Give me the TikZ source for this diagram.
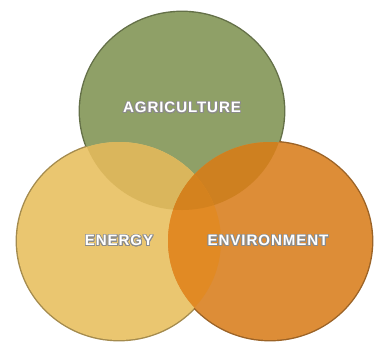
\documentclass[tikz,border=0pt]{standalone}
\usepackage{fontspec}
\usepackage{contour}
\newfontfamily\labelfont[LetterSpace=6]{Liberation Sans}
\contourlength{0.45pt}
\contournumber{24}

\definecolor{agrigreen}{RGB}{143,160,103}
\definecolor{energyyellow}{RGB}{234,198,112}
\definecolor{envorange}{RGB}{221,141,55}
\definecolor{agriener}{RGB}{218,182,92}
\definecolor{agrienv}{RGB}{206,128,32}
\definecolor{enerenv}{RGB}{225,138,36}
\definecolor{allthree}{RGB}{212,130,30}

\tikzset{
  rim/.style={draw=#1, line width=1.6pt},
  vennlabel/.style={text=white, font=\labelfont\bfseries\fontsize{8.6}{10}\selectfont}
}

\begin{document}
\begin{tikzpicture}[x=0.02cm, y=-0.02cm]
\useasboundingbox (0,0) rectangle (376,342);
\def\rx{102}
\def\ry{99}
\coordinate (agri) at (182,111);
\coordinate (ener) at (119,241);
\coordinate (envi) at (270,241);

% dark rims, mostly covered by the fills
\draw[rim=agrigreen!70!black] (agri) ellipse [x radius=\rx, y radius=\ry];
\draw[rim=energyyellow!70!black] (ener) ellipse [x radius=\rx, y radius=\ry];
\draw[rim=envorange!70!black] (envi) ellipse [x radius=\rx, y radius=\ry];

% fills
\fill[agrigreen] (agri) ellipse [x radius=\rx, y radius=\ry];
\fill[energyyellow] (ener) ellipse [x radius=\rx, y radius=\ry];
\fill[envorange] (envi) ellipse [x radius=\rx, y radius=\ry];

% overlaps
\begin{scope}
\clip (agri) ellipse [x radius=\rx, y radius=\ry];
\fill[agriener] (ener) ellipse [x radius=\rx, y radius=\ry];
\fill[agrienv] (envi) ellipse [x radius=\rx, y radius=\ry];
\end{scope}
\begin{scope}
\clip (ener) ellipse [x radius=\rx, y radius=\ry];
\fill[enerenv] (envi) ellipse [x radius=\rx, y radius=\ry];
\clip (envi) ellipse [x radius=\rx, y radius=\ry];
\fill[allthree] (agri) ellipse [x radius=\rx, y radius=\ry];
\end{scope}

% labels
\node[vennlabel] (agrilabel) at (182,108) {\contour{black!45}{AGRICULTURE}};
\node[vennlabel] (enerlabel) at (119,241) {\contour{black!45}{ENERGY}};
\node[vennlabel] (envilabel) at (268,241) {\contour{black!45}{ENVIRONMENT}};
\end{tikzpicture}
\end{document}
